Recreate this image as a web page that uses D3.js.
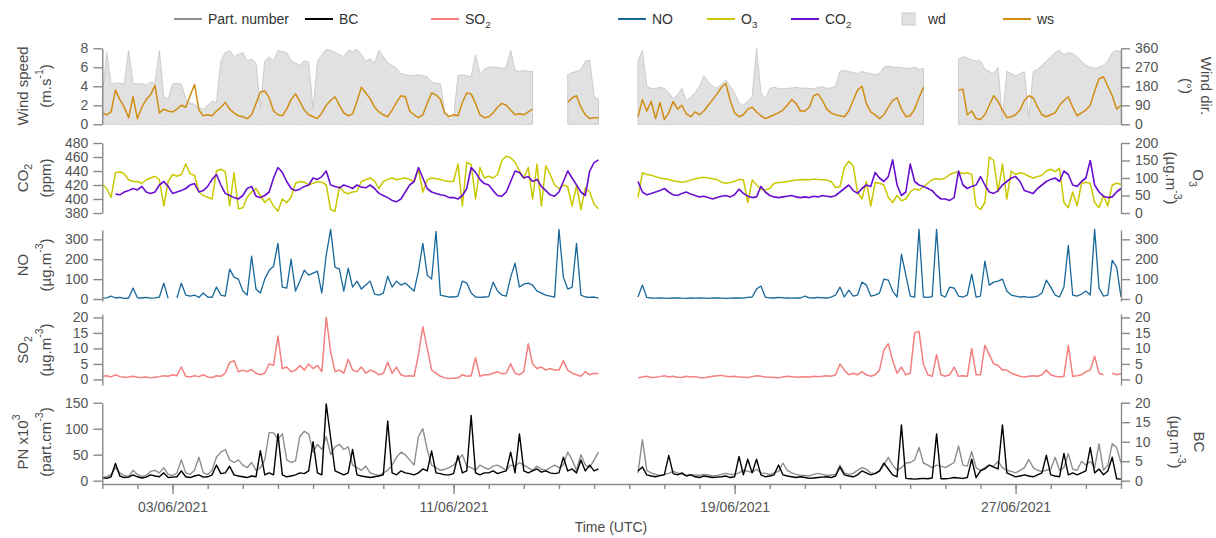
<!DOCTYPE html>
<html>
<head>
<meta charset="utf-8">
<script src="https://cdn.jsdelivr.net/npm/d3@7"></script>
<style>
  body { margin: 0; background: #fff; }
  svg { display: block; font-family: "Liberation Sans", Arial, sans-serif; }
</style>
</head>
<body>
<script>
// 3-hourly values from 01/06/2021 00:00 UTC, one row per day (00,03,...,21 UTC)
const startTime = Date.UTC(2021, 5, 1);
const endTime = Date.UTC(2021, 5, 30);
const stepHours = 3;
const _ = null;

// wind speed (m.s-1)
const ws = [
  1.2, 1.0, 1.3, 3.6, 2.6, 1.8, 0.7, 2.9,
  0.6, 1.8, 2.6, 3.1, 4.1, 1.2, 1.6, 1.4,
  1.3, 1.6, 2.0, 1.8, 3.0, 4.2, 1.5, 0.9,
  1.0, 0.9, 1.4, 1.8, 2.3, 1.6, 1.2, 0.9,
  0.8, 0.6, 1.0, 2.2, 3.4, 3.5, 2.8, 1.4,
  1.0, 0.9, 1.6, 2.6, 3.2, 2.4, 1.5, 1.0,
  0.8, 0.6, 1.2, 2.0, 2.5, 2.9, 2.0, 1.2,
  0.9, 1.1, 2.4, 3.9, 3.3, 2.7, 1.8, 1.3,
  1.0, 0.8, 1.5, 2.3, 3.0, 2.9, 1.4, 1.0,
  0.7, 1.0, 2.2, 3.3, 3.1, 2.6, 1.2, 0.8,
  1.0, 0.9, 2.3, 3.3, 3.2, 2.2, 1.0, 0.7,
  0.8, 1.2, 1.8, 2.2, 2.0, 1.5, 1.0, 1.1,
  1.0, 1.3, 1.6, _, _, _, _, _,
  _, _, 2.3, 2.8, 3.0, 1.8, 1.0, 0.6,
  0.7, 0.7, _, _, _, _, _, _,
  _, _, 0.8, 2.6, 1.4, 2.4, 0.6, 2.3,
  0.5, 1.2, 2.4, 1.6, 2.0, 1.1, 0.8, 1.3,
  1.0, 1.4, 2.0, 2.6, 3.2, 3.9, 4.3, 2.5,
  1.2, 0.8, 1.0, 1.6, 1.8, 1.3, 0.9, 0.6,
  0.8, 1.0, 1.2, 1.5, 2.0, 2.6, 2.2, 1.4,
  1.4, 1.8, 3.0, 3.2, 2.5, 1.6, 1.2, 1.0,
  0.9, 0.8, 1.4, 2.5, 3.6, 4.0, 2.2, 1.3,
  1.0, 0.6, 1.0, 1.8, 2.5, 2.8, 1.6, 0.8,
  0.9, 1.6, 2.8, 3.9, _, _, _, _,
  _, _, _, 3.6, 3.7, 1.0, 1.4, 0.6,
  0.5, 1.0, 2.0, 3.0, 2.4, 1.5, 0.7, 0.8,
  1.0, 1.5, 2.5, 3.0, 2.8, 1.8, 1.0, 0.8,
  1.0, 1.2, 2.0, 2.5, 2.9, 1.8, 0.9, 1.2,
  1.5, 2.0, 3.5, 4.8, 5.0, 4.0, 3.0, 1.6,
  2.0
];

// wind direction (degrees)
const wd = [
  130, 340, 190, 195, 195, 190, 350, 195,
  190, 195, 185, 200, 195, 350, 130, 120,
  190, 195, 190, 120, 100, 95, 80, 70,
  90, 110, 100, 300, 340, 350, 320, 330,
  340, 300, 310, 290, 80, 300, 320, 300,
  350, 345, 340, 300, 290, 280, 300, 295,
  70, 300, 330, 355, 350, 340, 330, 320,
  350, 345, 355, 330, 300, 310, 290, 350,
  320, 290, 280, 265, 240, 235, 230, 230,
  235, 230, 225, 200, 195, 190, 60, 20,
  30, 230, 235, 230, 225, 330, 240, 260,
  270, 272, 270, 265, 270, 350, 255, 250,
  255, 250, 250, _, _, _, _, _,
  _, _, 235, 245, 250, 260, 300, 305,
  130, 120, _, _, _, _, _, _,
  _, _, 300, 350, 180, 170, 170, 175,
  170, 150, 120, 140, 170, 110, 130, 150,
  180, 230, 200, 180, 170, 190, 210, 180,
  150, 100, 90, 110, 130, 360, 150, 120,
  170, 175, 170, 168, 170, 172, 175, 170,
  172, 170, 168, 175, 178, 170, 172, 180,
  250, 255, 250, 245, 240, 250, 245, 240,
  235, 240, 270, 275, 272, 270, 268, 265,
  265, 270, 260, 265, _, _, _, _,
  _, _, _, 310, 320, 315, 305, 300,
  300, 260, 250, 240, 270, 20, 250, 240,
  230, 240, 250, 30, 250, 260, 280, 300,
  320, 340, 350, 330, 340, 335, 320, 300,
  280, 270, 265, 270, 280, 300, 340, 350,
  345
];

// CO2 (ppm)
const co2 = [
  _, _, _, 407, 406, 410, 412, 415,
  413, 418, 410, 408, 410, 420, 425, 418,
  408, 410, 412, 415, 420, 422, 410, 412,
  418, 428, 435, 420, 408, 405, 402, 400,
  405, 415, 418, 404, 402, 405, 410, 430,
  445, 438, 425, 415, 412, 414, 418, 420,
  430, 428, 432, 440, 420, 418, 416, 420,
  418, 415, 420, 417, 416, 420, 415, 408,
  405, 402, 398, 396, 400, 410, 420, 425,
  445, 430, 415, 410, 408, 406, 405, 402,
  402, 400, 405, 415, 445, 438, 428, 422,
  420, 412, 405, 404, 410, 425, 440, 438,
  430, 432, 425, 428, 418, 412, 406, 404,
  410, 425, 440, 430, 420, 410, 405, 440,
  452, 456, _, _, _, _, _, _,
  _, _, 425, 410, 406, 408, 410, 412,
  415, 410, 406, 405, 408, 410, 407, 405,
  403, 404, 402, 400, 402, 404, 405, 403,
  406, 414, 408, 404, 402, 403, 418, 410,
  405, 403, 402, 403, 404, 405, 403, 402,
  403, 402, 404, 403, 405, 404, 403, 405,
  410, 415, 420, 412, 408, 415, 420, 418,
  438, 430, 425, 432, 456, 420, 405, 410,
  450, 425, 420, 418, 415, 412, 405, 400,
  400, 398, 402, 440, 420, 415, 418, 420,
  432, 420, 410, 408, 412, 420, 425, 430,
  432, 425, 412, 410, 408, 415, 420, 425,
  428, 430, 425, 440, 435, 420, 418, 425,
  430, 455, 420, 410, 404, 402, 403, 410,
  415
];

// O3 (µg.m-3)
const o3 = [
  82, 70, 45, 115, 118, 112, 95, 90,
  90, 85, 95, 100, 105, 95, 20, 90,
  110, 105, 110, 140, 112, 108, 60, 50,
  45, 40, 120, 125, 118, 20, 115, 12,
  15, 45, 60, 70, 50, 30, 42, 20,
  5, 40, 30, 45, 85, 90, 88, 80,
  85, 90, 88, 80, 10, 5, 75, 60,
  55, 60, 62, 90, 95, 100, 92, 70,
  90, 96, 100, 95, 98, 100, 96, 90,
  125, 60, 95, 100, 98, 96, 92, 90,
  90, 140, 20, 145, 138, 40, 130, 100,
  105, 100, 110, 150, 162, 158, 145, 120,
  100, 130, 40, 140, 20, 135, 110, 80,
  70, 80, 75, 20, 78, 10, 72, 60,
  25, 12, _, _, _, _, _, _,
  _, _, 45, 115, 110, 108, 104, 100,
  98, 96, 92, 90, 88, 90, 94, 98,
  100, 102, 100, 98, 96, 88, 85, 87,
  90, 96, 95, 30, 94, 80, 68, 66,
  70, 85, 87, 88, 90, 92, 94, 95,
  96, 95, 97, 96, 95, 94, 90, 73,
  75, 130, 148, 135, 60, 40, 90, 20,
  87, 85, 80, 45, 30, 50, 35, 40,
  60, 70, 65, 75, 85, 95, 98, 96,
  100, 110, 115, 118, 112, 115, 110, 20,
  10, 30, 160, 150, 60, 140, 40, 120,
  110, 115, 112, 105, 100, 104, 108, 120,
  125, 118, 128, 30, 15, 60, 20, 85,
  88, 85, 30, 15, 50, 20, 80, 85,
  82
];

// NO (µg.m-3)
const no = [
  4, 6, 15, 5, 8, 3, 5, 55,
  6, 5, 8, 4, 6, 10, 80, 3,
  _, 6, 80, 20, 15, 20, 8, 30,
  10, 8, 60, 20, 15, 150, 110, 100,
  40, 20, 215, 50, 30, 100, 145, 165,
  280, 60, 55, 200, 40, 90, 145, 120,
  130, 140, 30, 220, 350, 160, 150, 40,
  155, 60, 90, 50, 70, 90, 25, 20,
  30, 115, 60, 90, 70, 80, 60, 40,
  140, 280, 120, 100, 340, 20, 15, 10,
  10, 15, 90, 80, 30, 10, 8, 10,
  12, 85, 40, 20, 15, 110, 180, 60,
  75, 80, 70, 40, 30, 20, 15, 10,
  350, 110, 50, 60, 280, 20, 10, 8,
  10, 5, _, _, _, _, _, _,
  _, _, 10, 70, 8, 5, 4, 5,
  4, 3, 5, 6, 4, 3, 5, 4,
  5, 4, 3, 6, 5, 4, 3, 4,
  5, 6, 4, 8, 10, 50, 65, 10,
  6, 5, 8, 6, 5, 4, 6, 5,
  15, 6, 5, 8, 6, 5, 10, 20,
  60, 10, 45, 15, 20, 85, 70, 15,
  20, 30, 100, 95, 40, 10, 225, 120,
  15, 10, 350, 10, 8, 12, 350, 20,
  10, 60, 55, 15, 10, 20, 125, 10,
  15, 190, 70, 85, 90, 100, 40, 20,
  15, 10, 12, 8, 10, 15, 30, 95,
  60, 20, 10, 60, 270, 20, 15, 25,
  40, 20, 350, 55, 15, 20, 195, 160,
  10
];

// SO2 (µg.m-3)
const so2 = [
  1.0, 1.2, 0.8, 1.5, 0.9, 0.7, 0.8, 1.0,
  0.7, 0.6, 0.8, 0.5, 0.7, 0.9, 1.2, 1.0,
  1.5, 1.2, 4.0, 1.0, 0.8, 1.2, 0.9, 1.5,
  0.8, 0.6, 1.2, 1.0, 2.0, 5.5, 6.0, 2.5,
  3.0, 2.5, 3.2, 2.0, 1.5, 2.0, 5.0, 4.5,
  14, 3.5, 4.0, 2.5, 3.0, 4.5, 3.0, 5.0,
  3.5, 4.5, 2.5, 20, 9, 2.5, 3.0, 2.0,
  6.5, 3.0, 2.5, 4.0, 2.0, 3.0, 2.5, 1.5,
  2.0, 5.5, 2.0, 4.0, 1.5, 1.0, 1.2, 1.0,
  8, 17, 10, 3.0, 2.0, 1.0, 0.5, 0.3,
  0.4, 0.5, 1.5, 1.0, 1.2, 7.0, 1.0, 1.5,
  1.5, 2.0, 2.5, 1.8, 2.0, 5.0, 2.0, 1.5,
  2.5, 11.5, 5.0, 3.5, 4.0, 3.0, 3.5, 3.0,
  3.0, 6.0, 3.0, 2.0, 1.5, 1.0, 2.5, 1.5,
  2.0, 1.8, _, _, _, _, _, _,
  _, _, 0.5, 0.8, 1.0, 0.6, 0.7, 0.9,
  1.2, 0.8, 1.0, 0.7, 0.6, 1.0, 0.8, 0.9,
  0.6, 0.5, 0.8, 1.0, 1.2, 1.3, 1.0, 0.9,
  1.0, 0.8, 0.7, 0.6, 0.9, 1.2, 1.0, 0.8,
  0.7, 0.6, 0.5, 0.8, 1.0, 0.9, 0.7, 0.8,
  0.9, 0.8, 1.0, 0.9, 1.0, 1.2, 1.0, 1.5,
  5.0, 3.0, 1.5, 2.0, 1.5, 2.5, 1.5, 1.0,
  1.5, 3.0, 9.5, 11.5, 6.0, 2.0, 4.0, 1.5,
  2.0, 15, 15.5, 5.0, 1.5, 1.0, 8.0, 1.5,
  1.0, 1.5, 4.0, 1.0, 1.2, 1.0, 10, 1.5,
  1.5, 11, 8, 5, 4.5, 3.0, 3.0, 2.0,
  1.5, 1.0, 0.8, 1.0, 1.2, 1.0, 1.5, 3.0,
  1.5, 1.0, 0.8, 1.0, 11, 1.0, 1.2, 1.5,
  2.5, 3.0, 7.5, 2.0, 1.5, _, 2.0, 1.5,
  1.8
];

// particle number (x10^3 part.cm-3)
const pn = [
  5, 8, 12, 25, 15, 10, 8, 20,
  12, 8, 10, 18, 20, 15, 25, 12,
  10, 15, 40, 15, 12, 20, 45, 15,
  12, 20, 45, 55, 60, 40, 35, 40,
  30, 25, 35, 20, 25, 40, 93, 92,
  80, 90, 40, 35, 38, 85, 95, 90,
  55, 70, 60, 85, 50, 65, 70, 60,
  65, 30, 25, 20, 28, 15, 12, 10,
  15, 20, 30, 45, 55, 50, 40, 30,
  85, 100, 60, 30, 25, 20, 22, 25,
  30, 40, 50, 28, 25, 20, 30, 25,
  22, 28, 30, 25, 20, 30, 28, 35,
  30, 25, 20, 28, 22, 20, 25, 30,
  25, 30, 55, 40, 20, 50, 30, 25,
  40, 55, _, _, _, _, _, _,
  _, _, 15, 79, 20, 15, 12, 10,
  12, 14, 18, 15, 12, 10, 12, 11,
  10, 12, 11, 9, 10, 12, 14, 12,
  12, 15, 20, 18, 16, 22, 15, 14,
  12, 15, 18, 34, 20, 15, 12, 10,
  10, 9, 12, 14, 12, 10, 11, 12,
  30, 15, 12, 14, 20, 25, 22, 15,
  14, 18, 30, 45, 30, 20, 25, 34,
  35, 40, 64, 34, 30, 25, 30, 28,
  25, 30, 35, 67, 30, 28, 56, 25,
  20, 25, 30, 28, 37, 25, 20, 18,
  15, 20, 25, 41, 25, 20, 18, 20,
  22, 45, 20, 25, 52, 22, 20, 37,
  30, 37, 25, 71, 20, 30, 71, 64,
  34
];

// black carbon (µg.m-3)
const bc = [
  0.8, 0.6, 1.0, 4.4, 1.2, 0.8, 0.9, 1.5,
  1.0, 0.7, 0.9, 1.5, 1.2, 1.0, 2.0, 0.8,
  0.9, 1.0, 2.5, 1.0, 0.8, 1.2, 1.5, 0.9,
  1.0, 1.5, 4.0, 1.8, 2.0, 3.7, 1.5, 1.2,
  1.0, 0.8, 1.2, 1.0, 7.7, 1.5, 2.0, 1.5,
  12, 1.5, 1.0, 1.2, 1.5, 2.0, 1.8, 2.5,
  10, 2.0, 1.5, 19.7, 11, 2.5, 2.0, 1.5,
  2.0, 8.0, 1.5, 1.2, 1.0, 0.8, 1.0, 1.2,
  1.5, 15.3, 2.0, 1.5, 2.5, 2.0, 1.8, 1.5,
  2.0, 3.0, 2.5, 7.6, 2.0, 1.8, 1.5, 1.5,
  1.8, 6.4, 2.0, 2.5, 16.7, 2.0, 1.5, 2.0,
  2.0, 2.5, 1.8, 2.2, 2.5, 7.3, 2.0, 12,
  2.5, 2.0, 2.5, 3.0, 2.2, 2.5, 2.0, 1.8,
  2.0, 6.0, 2.5, 3.0, 2.0, 5.3, 2.5, 4.0,
  2.5, 3.0, _, _, _, _, _, _,
  _, _, 2.5, 3.5, 1.5, 1.2, 1.0, 1.3,
  1.5, 6.5, 1.8, 1.5, 2.0, 1.2, 1.5, 1.0,
  0.8, 1.2, 1.0, 0.8, 0.9, 1.0, 1.2, 0.8,
  1.0, 6.2, 1.5, 5.5, 2.0, 5.5, 1.5, 1.0,
  1.2, 1.5, 4.0, 1.5, 1.2, 1.0, 0.8, 1.0,
  0.8, 0.6, 0.7, 0.8, 0.9, 1.0, 0.8, 1.2,
  3.5, 1.5, 1.2, 1.0, 1.5, 2.5, 2.0, 1.5,
  1.8, 2.5, 4.5, 3.0, 1.5, 1.0, 14.3, 0.6,
  0.5, 0.4, 0.5, 0.6, 0.5, 0.7, 12, 0.5,
  0.5, 0.6, 0.8, 0.7, 0.6, 0.8, 5.5, 0.8,
  2.5, 3.0, 4.0, 3.5, 3.0, 14.3, 2.0, 1.5,
  1.0, 1.2, 1.5, 1.2, 1.0, 1.5, 2.0, 6.5,
  1.5, 1.2, 1.0, 7.0, 1.5, 2.0, 1.5, 2.0,
  2.5, 8.5, 2.0, 3.0, 1.5, 2.5, 6.0, 0.5,
  0.4
];

// axis ticks
const wsTicks = [0, 2, 4, 6, 8];
const wdTicks = [0, 90, 180, 270, 360];
const co2Ticks = [380, 400, 420, 440, 460, 480];
const o3Ticks = [0, 50, 100, 150, 200];
const noTicks = [0, 100, 200, 300];
const so2Ticks = [0, 5, 10, 15, 20];
const pnTicks = [0, 50, 100, 150];
const bcTicks = [0, 5, 10, 15, 20];
const majorDates = ["2021-06-03", "2021-06-11", "2021-06-19", "2021-06-27"];

const colors = {
  pn: "#8e8e8e", bc: "#000000", so2: "#f47f7f", no: "#17679a",
  o3: "#c9c800", co2: "#6a0fd0", wdFill: "#e1e1e1", wdStroke: "#cccccc", ws: "#d18c12"
};

const width = 1216, height = 538;
const axisColor = "#8a8a8a", tickText = "#555", titleColor = "#4a4a4a";

const svg = d3.select("body").append("svg")
  .attr("width", width).attr("height", height)
  .attr("viewBox", [0, 0, width, height]);

const x = d3.scaleUtc().domain([new Date(startTime), new Date(endTime)]).range([102.3, 1121]);

const pts = (arr) => arr.map((v, i) => ({ t: new Date(startTime + i * stepHours * 3600e3), v }));

// y scales per panel
const yWs = d3.scaleLinear([0, 8], [124.3, 48.3]);
const yWd = d3.scaleLinear([0, 360], [124.3, 48.3]);
const yCo2 = d3.scaleLinear([380, 480], [213, 143]);
const yO3 = d3.scaleLinear([0, 200], [213, 143]);
const yNo = d3.scaleLinear([-10, 347], [301, 230]);
const ySo2 = d3.scaleLinear([-1.8, 21.1], [385, 314]);
const yPn = d3.scaleLinear([-6, 150], [483.8, 402.7]);
const yBc = d3.scaleLinear([-0.8, 20], [483.8, 402.7]);

const lineFor = (y) => d3.line().defined(d => d.v != null).x(d => x(d.t)).y(d => y(d.v));

// wind panel
svg.append("path")
  .datum(pts(wd))
  .attr("fill", colors.wdFill)
  .attr("stroke", colors.wdStroke)
  .attr("stroke-width", 1)
  .attr("d", d3.area().defined(d => d.v != null).x(d => x(d.t)).y0(yWd(0)).y1(d => yWd(d.v)));

const drawLine = (arr, y, color, w) =>
  svg.append("path").datum(pts(arr))
    .attr("fill", "none").attr("stroke", color).attr("stroke-width", w)
    .attr("stroke-linejoin", "round").attr("d", lineFor(y));

drawLine(ws, yWs, colors.ws, 1.5);
drawLine(o3, yO3, colors.o3, 1.5);
drawLine(co2, yCo2, colors.co2, 1.6);
drawLine(no, yNo, colors.no, 1.3);
drawLine(so2, ySo2, colors.so2, 1.5);
drawLine(pn, yPn, colors.pn, 1.4);
drawLine(bc, yBc, colors.bc, 1.4);

// y axes
function yAxis(scale, ticks, side) {
  const ax = (side === "left" ? d3.axisLeft(scale) : d3.axisRight(scale))
    .tickValues(ticks).tickSize(9).tickPadding(5).tickSizeOuter(0);
  const g = svg.append("g")
    .attr("transform", `translate(${side === "left" ? 102.3 : 1121},0)`)
    .call(ax);
  g.select(".domain").attr("stroke", axisColor).attr("stroke-width", 1.4);
  g.selectAll(".tick line").attr("stroke", axisColor).attr("stroke-width", 1.4);
  g.selectAll(".tick text").attr("fill", tickText).attr("font-size", 14)
    .attr("font-family", "Liberation Sans, Arial, sans-serif");
}
yAxis(yWs, wsTicks, "left");
yAxis(yWd, wdTicks, "right");
yAxis(yCo2, co2Ticks, "left");
yAxis(yO3, o3Ticks, "right");
yAxis(yNo, noTicks, "left");
yAxis(yNo, noTicks, "right");
yAxis(ySo2, so2Ticks, "left");
yAxis(ySo2, so2Ticks, "right");
yAxis(yPn, pnTicks, "left");
yAxis(yBc, bcTicks, "right");

// x axis: daily minor ticks, labelled major ticks
const axisY = 484;
const minor = svg.append("g").attr("transform", `translate(0,${axisY})`)
  .call(d3.axisBottom(x).tickValues(d3.utcDay.range(new Date(startTime), new Date(endTime + 1)))
    .tickSize(5).tickFormat("").tickSizeOuter(0));
minor.select(".domain").attr("stroke", axisColor).attr("stroke-width", 1.4);
minor.selectAll(".tick line").attr("stroke", axisColor).attr("stroke-width", 1.4);

const major = svg.append("g").attr("transform", `translate(0,${axisY})`)
  .call(d3.axisBottom(x).tickValues(majorDates.map(d => new Date(d + "T00:00:00Z")))
    .tickSize(10).tickPadding(8).tickFormat(d3.utcFormat("%d/%m/%Y")));
major.select(".domain").remove();
major.selectAll(".tick line").attr("stroke", axisColor).attr("stroke-width", 1.4);
major.selectAll(".tick text").attr("fill", tickText).attr("font-size", 14)
  .attr("font-family", "Liberation Sans, Arial, sans-serif");

svg.append("text").attr("x", 611).attr("y", 532).attr("text-anchor", "middle")
  .attr("font-size", 14).attr("fill", titleColor).text("Time (UTC)");

// rich text helper (sub / superscripts)
function rich(sel, parts) {
  parts.forEach(([t, shift]) => {
    const ts = sel.append("tspan").text(t);
    if (shift) ts.attr("baseline-shift", shift).attr("font-size", "0.7em");
  });
  return sel;
}
function vLabel(xp, yp, angle, parts) {
  const t = svg.append("text")
    .attr("transform", `translate(${xp},${yp}) rotate(${angle})`)
    .attr("text-anchor", "middle").attr("dominant-baseline", "central")
    .attr("font-size", 15).attr("fill", titleColor);
  rich(t, parts);
}

const unitM3 = [["(µg.m", null], ["-3", "super"], [")", null]];
vLabel(22, 86, -90, [["Wind speed", null]]);
vLabel(45, 86, -90, [["(m.s", null], ["-1", "super"], [")", null]]);
vLabel(22, 178, -90, [["CO", null], ["2", "sub"]]);
vLabel(45, 178, -90, [["(ppm)", null]]);
vLabel(22, 265, -90, [["NO", null]]);
vLabel(45, 265, -90, unitM3);
vLabel(22, 350, -90, [["SO", null], ["2", "sub"]]);
vLabel(45, 350, -90, unitM3);
vLabel(22, 442, -90, [["PN x10", null], ["3", "super"]]);
vLabel(45, 442, -90, [["(part.cm", null], ["-3", "super"], [")", null]]);

vLabel(1207, 86, 90, [["Wind dir.", null]]);
vLabel(1187, 86, 90, [["(°)", null]]);
vLabel(1199, 178, 90, [["O", null], ["3", "sub"]]);
vLabel(1172, 178, 90, unitM3);
vLabel(1200, 442, 90, [["BC", null]]);
vLabel(1176, 442, 90, unitM3);

// legend
const legendItems = [
  { parts: [["Part. number", null]], color: colors.pn, x: 174, kind: "line" },
  { parts: [["BC", null]], color: colors.bc, x: 305, kind: "line" },
  { parts: [["SO", null], ["2", "sub"]], color: colors.so2, x: 431, kind: "line" },
  { parts: [["NO", null]], color: colors.no, x: 618, kind: "line" },
  { parts: [["O", null], ["3", "sub"]], color: colors.o3, x: 707, kind: "line" },
  { parts: [["CO", null], ["2", "sub"]], color: colors.co2, x: 791, kind: "line" },
  { parts: [["wd", null]], color: colors.wdFill, x: 902, kind: "box" },
  { parts: [["ws", null]], color: colors.ws, x: 1003, kind: "line" }
];
const legY = 19;
legendItems.forEach(it => {
  let tx;
  if (it.kind === "line") {
    svg.append("line").attr("x1", it.x).attr("x2", it.x + 28).attr("y1", legY).attr("y2", legY)
      .attr("stroke", it.color).attr("stroke-width", 2);
    tx = it.x + 34;
  } else {
    svg.append("rect").attr("x", it.x).attr("y", legY - 6).attr("width", 13).attr("height", 12)
      .attr("fill", it.color).attr("stroke", colors.wdStroke);
    tx = it.x + 26;
  }
  const t = svg.append("text").attr("x", tx).attr("y", legY).attr("dominant-baseline", "central")
    .attr("font-size", 14).attr("fill", "#333");
  rich(t, it.parts);
});
</script>
</body>
</html>
